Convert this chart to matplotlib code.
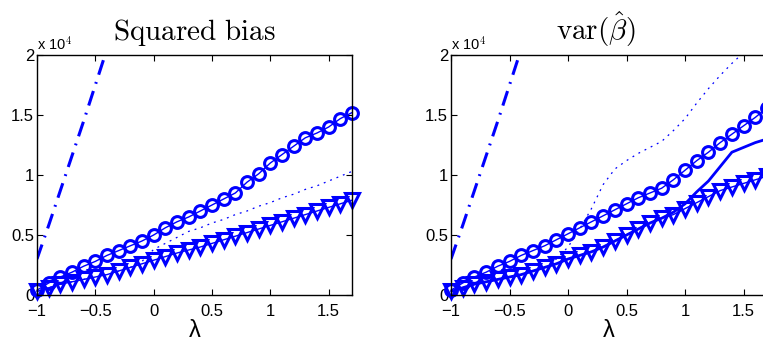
import numpy as np
import matplotlib
matplotlib.use('Agg')
import matplotlib.pyplot as plt
from matplotlib.ticker import FuncFormatter

plt.rcParams['font.family'] = ['Liberation Sans', 'DejaVu Sans']
plt.rcParams['mathtext.fontset'] = 'cm'

# lambda grid (step 0.1)
lam = np.round(np.arange(-1, 1.71, 0.1), 2)

# squared bias panel (values x 1e4)
bias_circ = [0.04, 0.10, 0.15, 0.19, 0.24, 0.28, 0.33, 0.37, 0.41, 0.45, 0.50, 0.56, 0.61, 0.65,
             0.70, 0.75, 0.80, 0.85, 0.94, 1.01, 1.10, 1.17, 1.24, 1.31, 1.35, 1.40, 1.47, 1.52]
bias_tri = [0.03, 0.06, 0.09, 0.11, 0.13, 0.15, 0.17, 0.20, 0.23, 0.26, 0.29, 0.32, 0.35, 0.375,
            0.40, 0.43, 0.46, 0.49, 0.52, 0.55, 0.58, 0.61, 0.64, 0.67, 0.70, 0.73, 0.76, 0.79]
bias_dot = [0.03, 0.06, 0.09, 0.11, 0.13, 0.15, 0.17, 0.20, 0.23, 0.28, 0.38, 0.43, 0.48, 0.53,
            0.56, 0.60, 0.63, 0.67, 0.70, 0.74, 0.77, 0.81, 0.84, 0.88, 0.91, 0.95, 0.99, 1.03]
bias_dd = [0.30, 0.58, 0.87, 1.16, 1.45, 1.75, 2.05, 2.35]

# variance panel (values x 1e4)
var_circ = [0.04, 0.10, 0.15, 0.19, 0.24, 0.28, 0.33, 0.37, 0.41, 0.46, 0.51, 0.56, 0.61, 0.66,
            0.71, 0.76, 0.81, 0.85, 0.89, 0.96, 1.04, 1.12, 1.19, 1.27, 1.34, 1.41, 1.48, 1.56]
var_tri = [0.03, 0.06, 0.09, 0.11, 0.13, 0.15, 0.17, 0.20, 0.23, 0.26, 0.30, 0.33, 0.36, 0.40,
           0.45, 0.50, 0.55, 0.60, 0.64, 0.67, 0.72, 0.77, 0.82, 0.87, 0.90, 0.93, 0.96, 0.99]
var_solid = [0.03, 0.06, 0.09, 0.11, 0.13, 0.15, 0.17, 0.20, 0.23, 0.26, 0.30, 0.33, 0.36, 0.40,
             0.45, 0.50, 0.55, 0.60, 0.64, 0.69, 0.76, 0.86, 0.95, 1.07, 1.19, 1.23, 1.27, 1.30]
var_dot = [0.03, 0.06, 0.09, 0.11, 0.13, 0.15, 0.17, 0.20, 0.23, 0.30, 0.40, 0.55, 0.72, 0.92,
           1.05, 1.12, 1.18, 1.23, 1.28, 1.37, 1.47, 1.60, 1.72, 1.83, 1.93, 2.02, 2.12, 2.20]
var_dd = [0.30, 0.58, 0.87, 1.16, 1.45, 1.75, 2.05, 2.35]

scale = 1e4
blue = (0, 0, 1)

fig = plt.figure(figsize=(7.63, 3.42), dpi=100)
ax1 = fig.add_axes([37/763, 1-295/342, 315/763, 240/342])
ax2 = fig.add_axes([451/763, 1-295/342, 316/763, 240/342])

def draw(ax, circ, tri, dot, dd, solid=None):
    ax.plot(lam, np.array(dot)*scale, color=blue, lw=0.9, dashes=(1.5, 4))
    ax.plot(lam[:len(dd)], np.array(dd)*scale, color=blue, lw=2.2, dashes=(5, 2.5, 0.6, 2.5))
    if solid is not None:
        ax.plot(lam, np.array(solid)*scale, color=blue, lw=2)
    ax.plot(lam, np.array(circ)*scale, color=blue, lw=1, marker='o', ms=8.5,
            mfc='none', mec=blue, mew=2.2, clip_on=False)
    ax.plot(lam, np.array(tri)*scale, color=blue, lw=1, marker='v', ms=10.5,
            mfc='none', mec=blue, mew=2.2, clip_on=False)
    ax.set_xlim(-1, 1.7)
    ax.set_ylim(0, 2e4)
    ax.set_xticks([-1, -0.5, 0, 0.5, 1, 1.5])
    ax.set_yticks([0, 0.5e4, 1e4, 1.5e4, 2e4])
    ax.xaxis.set_major_formatter(FuncFormatter(lambda v, p: ('%g' % v).replace('-', '\u2212')))
    ax.yaxis.set_major_formatter(FuncFormatter(lambda v, p: '%g' % (v/scale)))
    ax.tick_params(direction='in', top=True, right=True, length=4, width=0.8,
                   labelsize=12)
    ax.tick_params(axis='x', pad=6.5)
    ax.tick_params(axis='y', pad=2)
    for s in ax.spines.values():
        s.set_linewidth(1)
    ax.set_xlabel('\u03bb', fontsize=17, labelpad=1)
    ax.text(0, 1.01, 'x 10$^4$', transform=ax.transAxes, fontsize=10.5, va='bottom', ha='left')

draw(ax1, bias_circ, bias_tri, bias_dot, bias_dd)
draw(ax2, var_circ, var_tri, var_dot, var_dd, solid=var_solid)
ax2.tick_params(right=False)

ax1.set_title(r'$\mathrm{Squared\ bias}$', fontsize=21, pad=11)
ax2.set_title(r'$\mathrm{var}(\hat{\beta})$', fontsize=21, pad=11, x=(596-451)/316)

fig.savefig('out.png', dpi=100)
